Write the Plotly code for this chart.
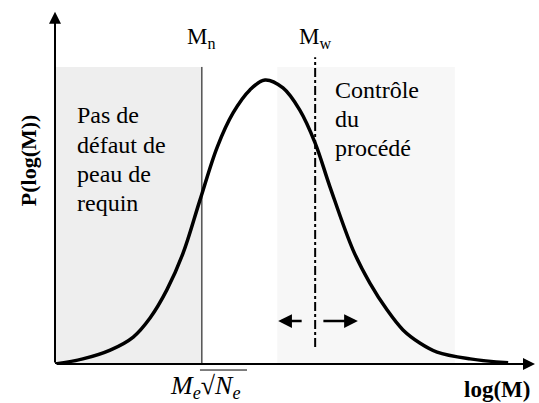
import plotly.graph_objects as go

# Molecular weight distribution curve (arbitrary units)
log_m = [0.0, 0.58, 1.15, 1.63, 1.98, 2.33, 2.67, 3.02, 3.38, 3.71, 4.06, 4.375,
         4.75, 5.10, 5.42, 5.73, 6.21, 6.56, 6.92, 7.25, 7.60, 7.96, 8.65, 9.44]
p_log_m = [0.0, 0.018, 0.049, 0.095, 0.162, 0.261, 0.391, 0.577, 0.764, 0.884, 0.965, 1.0,
           0.972, 0.894, 0.778, 0.623, 0.401, 0.285, 0.190, 0.120, 0.074, 0.042, 0.018, 0.004]

# Characteristic positions
mn_x = 3.06
mw_x = 5.42
zone_top = 1.046
right_zone = [4.63, 8.33]

left_lines = ["Pas de", "défaut de", "peau de", "requin"]
left_line_y = [0.877, 0.771, 0.669, 0.567]
right_lines = ["Contrôle", "du", "procédé"]
right_line_y = [0.965, 0.863, 0.761]

SERIF = "Liberation Serif"

fig = go.Figure()

# shaded zones
fig.add_shape(type="rect", x0=0, x1=mn_x, y0=0, y1=zone_top,
              fillcolor="#eeeeee", line=dict(width=0), layer="below")
fig.add_shape(type="rect", x0=right_zone[0], x1=right_zone[1], y0=0, y1=zone_top,
              fillcolor="#f7f7f7", line=dict(width=0), layer="below")

# Mn and Mw lines
fig.add_shape(type="line", x0=mn_x, x1=mn_x, y0=0, y1=zone_top,
              line=dict(color="black", width=1))
fig.add_shape(type="line", x0=mw_x, x1=mw_x, y0=0.06, y1=1.08,
              line=dict(color="black", width=2, dash="dashdot"))

fig.add_trace(go.Scatter(
    x=log_m, y=p_log_m, mode="lines",
    line=dict(color="black", width=3.5, shape="spline"),
    showlegend=False, hoverinfo="skip"
))

annotations = []

# axes with arrows
annotations.append(dict(x=0, y=1.24, ax=0, ay=0, xref="x", yref="y", axref="x", ayref="y",
                        text="", showarrow=True, arrowhead=2, arrowsize=1.2, arrowwidth=2,
                        arrowcolor="black"))
annotations.append(dict(x=1.0, y=0, ax=0, ay=0, xref="x domain", yref="y",
                        axref="x domain", ayref="y",
                        text="", showarrow=True, arrowhead=2, arrowsize=1.2, arrowwidth=2,
                        arrowcolor="black"))

# control arrows around Mw
arrow_y = 0.151
annotations.append(dict(x=4.65, y=arrow_y, ax=5.17, ay=arrow_y, xref="x", yref="y",
                        axref="x", ayref="y", text="", showarrow=True, arrowhead=2,
                        arrowsize=1.1, arrowwidth=2.5, arrowcolor="black"))
annotations.append(dict(x=6.31, y=arrow_y, ax=5.56, ay=arrow_y, xref="x", yref="y",
                        axref="x", ayref="y", text="", showarrow=True, arrowhead=2,
                        arrowsize=1.1, arrowwidth=2.5, arrowcolor="black"))

# zone texts, one annotation per line
for line, yv in zip(left_lines, left_line_y):
    annotations.append(dict(x=0.42, y=yv, xref="x", yref="y", xanchor="left",
                            yanchor="middle", showarrow=False, text=line,
                            font=dict(family=SERIF, size=24, color="black")))
for line, yv in zip(right_lines, right_line_y):
    annotations.append(dict(x=5.79, y=yv, xref="x", yref="y", xanchor="left",
                            yanchor="middle", showarrow=False, text=line,
                            font=dict(family=SERIF, size=24, color="black")))

annotations.append(dict(x=mn_x, y=1.149, xref="x", yref="y", showarrow=False,
                        xanchor="center", yanchor="middle", text="M<sub>n</sub>",
                        font=dict(family=SERIF, size=23, color="black")))
annotations.append(dict(x=mw_x, y=1.149, xref="x", yref="y", showarrow=False,
                        xanchor="center", yanchor="middle", text="M<sub>w</sub>",
                        font=dict(family=SERIF, size=23, color="black")))
annotations.append(dict(x=0.3115, y=-0.064, xref="paper", yref="paper", showarrow=False,
                        xanchor="center", yanchor="middle",
                        text="<i>M</i><sub><i>e</i></sub>√<i>N</i><sub><i>e</i></sub>",
                        font=dict(family=SERIF, size=26, color="black")))
annotations.append(dict(x=0.921, y=-0.073, xref="paper", yref="paper", showarrow=False,
                        xanchor="center", yanchor="middle", text="<b>log(M)</b>",
                        font=dict(family=SERIF, size=23, color="black")))
annotations.append(dict(x=-0.056, y=0.576, xref="paper", yref="paper", showarrow=False,
                        xanchor="center", yanchor="middle",
                        textangle=-90, text="<b>P(log(M))</b>",
                        font=dict(family=SERIF, size=22, color="black")))

# overline of the square root
fig.add_shape(type="line", xref="paper", yref="paper", x0=0.302, x1=0.40, y0=-0.017, y1=-0.017,
              line=dict(color="black", width=1))

fig.update_layout(
    width=539, height=403,
    margin=dict(l=55, r=4, t=10, b=39),
    font=dict(family=SERIF, color="black"),
    plot_bgcolor="white", paper_bgcolor="white",
    xaxis=dict(range=[0, 10], visible=False, fixedrange=True),
    yaxis=dict(range=[0, 1.2465], visible=False, fixedrange=True),
    annotations=annotations,
    showlegend=False
)

fig.write_html("out.html", config={"displayModeBar": False},
               post_script="document.body.style.margin='0';")
